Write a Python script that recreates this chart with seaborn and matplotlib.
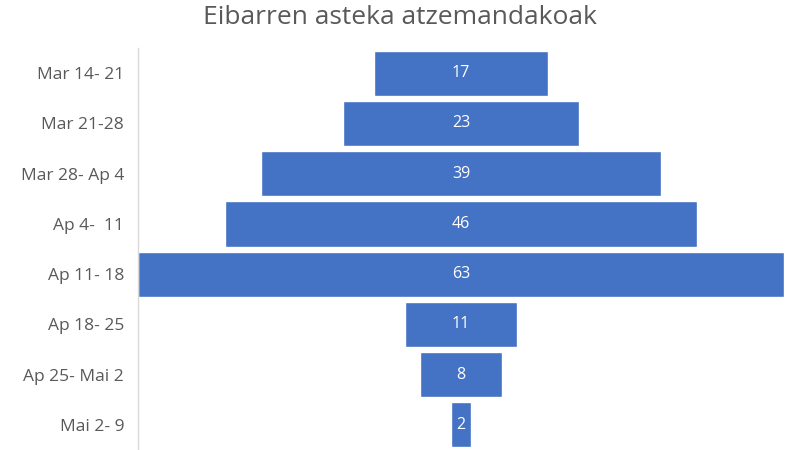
import matplotlib
matplotlib.use("Agg")
import matplotlib.pyplot as plt
import seaborn as sns
import pandas as pd

# -------------------
# DATA
# -------------------
weeks = ["Mar 14- 21", "Mar 21-28", "Mar 28- Ap 4", "Ap 4-  11",
         "Ap 11- 18", "Ap 18- 25", "Ap 25- Mai 2", "Mai 2- 9"]
counts = [17, 23, 39, 46, 63, 11, 8, 2]

df = pd.DataFrame({"week": weeks, "count": counts})

sns.set_style("white")
plt.rcParams["font.family"] = ["Open Sans", "DejaVu Sans"]

fig = plt.figure(figsize=(8, 4.5), dpi=100)
ax = fig.add_axes([0.1725, 0.0, 0.8075, 0.893])

sns.barplot(data=df, x="count", y="week", color="#4472C4", saturation=1,
            width=0.9, ax=ax, orient="h")

# centre each bar to make the funnel
top = max(counts)
for p, v in zip(ax.patches, counts):
    p.set_x((top - v) / 2)
    ax.text(top / 2, p.get_y() + p.get_height() / 2, str(v),
            ha="center", va="center", color="white", fontsize=11.5)

ax.set_xlim(0, top)
ax.set_ylim(len(weeks) - 0.5, -0.5)
ax.set_xlabel("")
ax.set_ylabel("")
ax.set_xticks([])
ax.tick_params(axis="y", length=0, pad=10, labelsize=12.5, labelcolor="#595959")

for s in ["top", "right", "bottom"]:
    ax.spines[s].set_visible(False)
ax.spines["left"].set_color("#D9D9D9")
ax.spines["left"].set_linewidth(1)

fig.suptitle("Eibarren asteka atzemandakoak", x=0.5, y=0.99,
             fontsize=19, color="#595959")

fig.savefig("out.png", dpi=100)
